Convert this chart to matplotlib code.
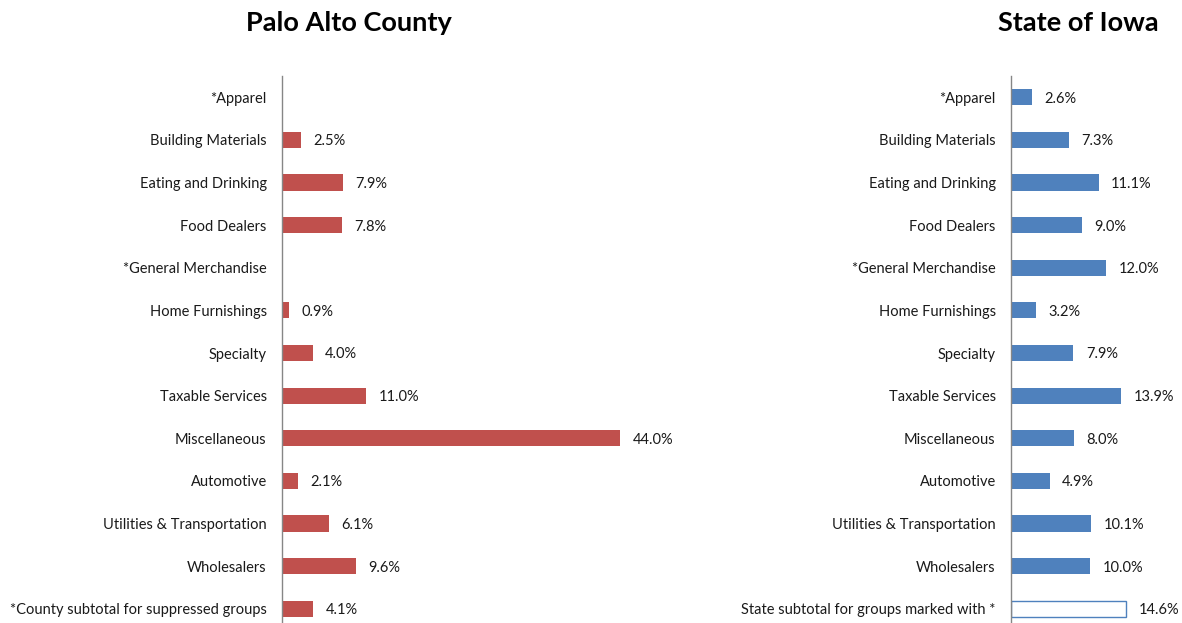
import numpy as np
import matplotlib.pyplot as plt

plt.rcParams['font.family'] = ['Lato', 'DejaVu Sans']

county_labels = ["*Apparel", "Building Materials", "Eating and Drinking", "Food Dealers",
                 "*General Merchandise", "Home Furnishings", "Specialty", "Taxable Services",
                 "Miscellaneous", "Automotive", "Utilities & Transportation", "Wholesalers",
                 "*County subtotal for suppressed groups"]
county_values = [None, 2.5, 7.9, 7.8, None, 0.9, 4.0, 11.0, 44.0, 2.1, 6.1, 9.6, 4.1]

state_labels = ["*Apparel", "Building Materials", "Eating and Drinking", "Food Dealers",
                "*General Merchandise", "Home Furnishings", "Specialty", "Taxable Services",
                "Miscellaneous", "Automotive", "Utilities & Transportation", "Wholesalers",
                "State subtotal for groups marked with *"]
state_values = [2.6, 7.3, 11.1, 9.0, 12.0, 3.2, 7.9, 13.9, 8.0, 4.9, 10.1, 10.0, 14.6]

red = "#C0504D"
blue = "#4F81BD"

W, H = 1182, 623
fig = plt.figure(figsize=(W / 100, H / 100), dpi=100)


def panel(left_px, xmax, px_per_pct, labels, values, color, title, title_x, outline_last=False):
    top, bottom = 76, 630
    ax = fig.add_axes([left_px / W, (H - bottom) / H,
                       xmax * px_per_pct / W, (bottom - top) / H])
    y = np.arange(len(labels))
    for i, v in enumerate(values):
        if v is None:
            continue
        if outline_last and i == len(values) - 1:
            ax.barh(y[i], v, height=0.38, color="white", edgecolor=color, linewidth=1.0)
        else:
            ax.barh(y[i], v, height=0.38, color=color)
        ax.annotate(f"{v:.1f}%", (v, y[i]), xytext=(9, 0), textcoords="offset points",
                    va="center_baseline", ha="left", fontsize=10.5, color="#1a1a1a")
    ax.set_xlim(0, xmax)
    ax.set_ylim(len(labels) - 0.5, -0.5)
    ax.set_yticks(y)
    ax.set_yticklabels(labels, fontsize=10.5, color="#1a1a1a")
    ax.tick_params(axis="y", length=0, pad=11)
    ax.set_xticks([])
    for s in ["top", "right", "bottom"]:
        ax.spines[s].set_visible(False)
    ax.spines["left"].set_color("#868686")
    ax.spines["left"].set_linewidth(1.0)
    fig.text(title_x / W, 1 - 23 / H, title, ha="center", va="center",
             fontsize=19.5, fontweight="bold")
    return ax


panel(282, 50, 7.68, county_labels, county_values, red, "Palo Alto County", 349)
panel(1011, 20, 7.9, state_labels, state_values, blue, "State of Iowa", 1078, outline_last=True)

fig.savefig("out.png", dpi=100)
